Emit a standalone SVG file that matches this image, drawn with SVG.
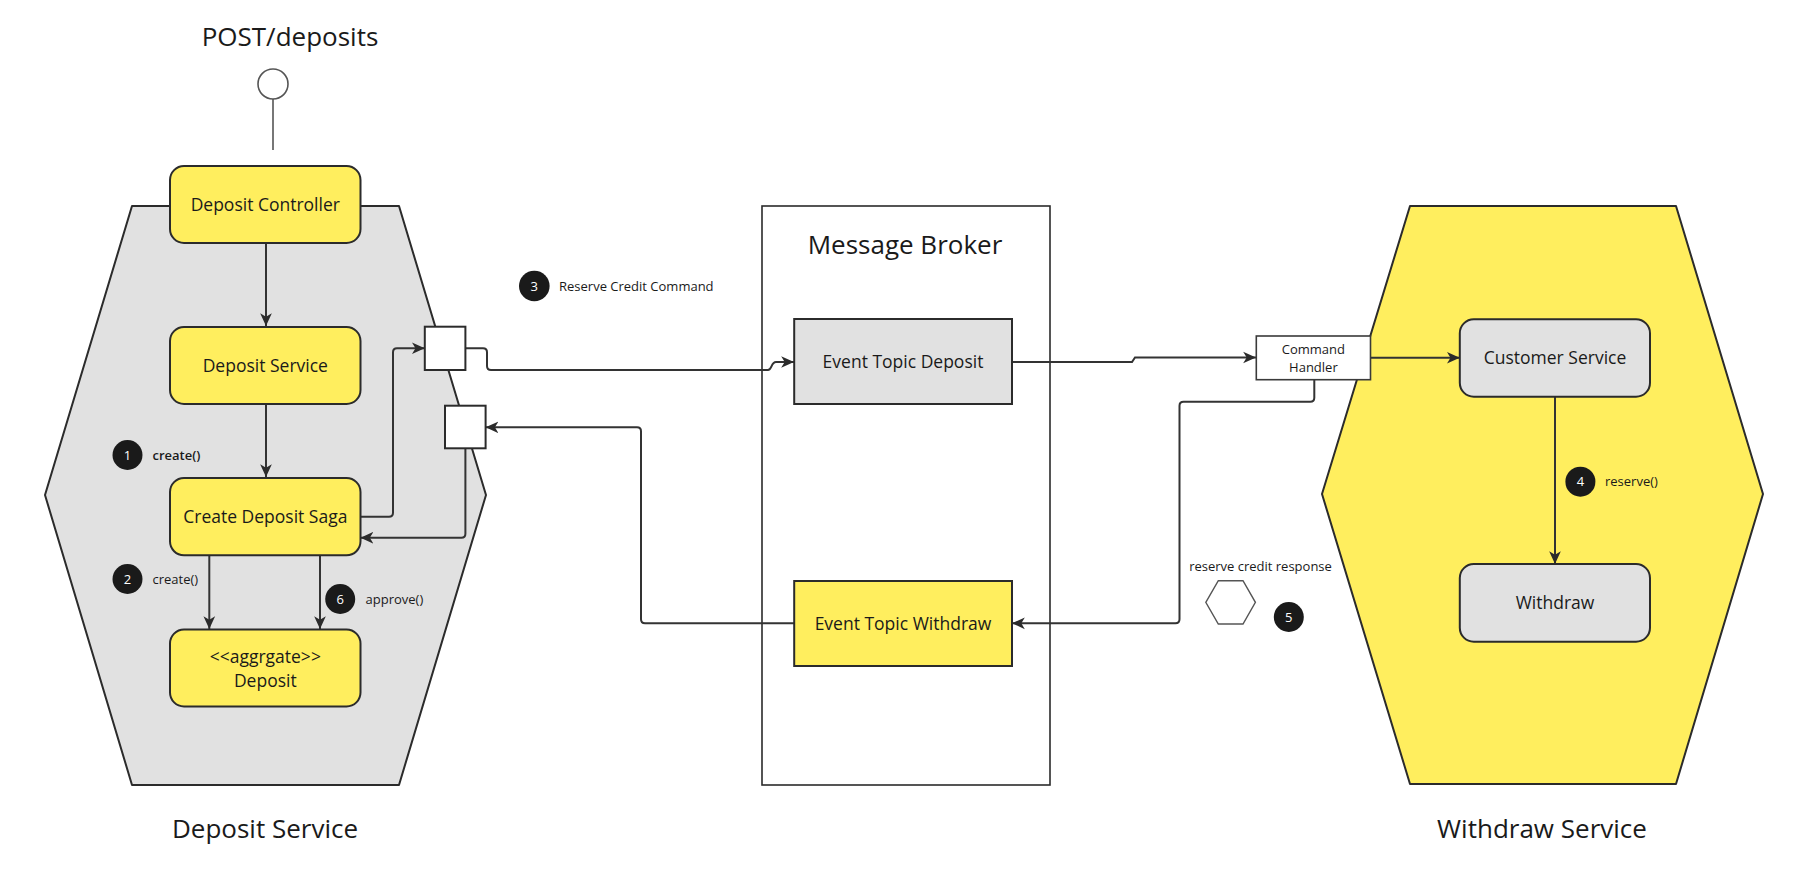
<svg xmlns="http://www.w3.org/2000/svg" width="1800" height="888" viewBox="0 0 1800 888">
<defs>
<marker id="arr" markerUnits="userSpaceOnUse" markerWidth="14" markerHeight="14" viewBox="0 0 12 12" refX="11" refY="6" orient="auto">
<path d="M0,1 L11,6 L0,11 L3,6 z" fill="#2b2b2b"/>
</marker>
<style>
text{font-family:"Open Sans","Noto Sans","Liberation Sans",sans-serif;fill:#1a1a1a}
.hexg{fill:#e1e1e1;stroke:#2b2b2b;stroke-width:2;stroke-linejoin:round}
.hexy{fill:#ffee5e;stroke:#2b2b2b;stroke-width:2;stroke-linejoin:round}
.ybox{fill:#ffee5e;stroke:#2b2b2b;stroke-width:2}
.gbox{fill:#e1e1e1;stroke:#2b2b2b;stroke-width:2}
.port{fill:#ffffff;stroke:#2b2b2b;stroke-width:2}
.lbl{font-size:17.5px;text-anchor:middle}
.title{font-size:26px;text-anchor:middle}
.small{font-size:13px}
.badge{fill:#1a1a1a}
.num{font-size:13px;fill:#ffffff;text-anchor:middle}
.conn{fill:none;stroke:#333333;stroke-width:2}
</style>
</defs>
<rect width="1800" height="888" fill="#ffffff"/>

<g id="deposit-service-hex">
<polygon class="hexg" points="132,206 399,206 486,495 399,785 132,785 45,495"/>
<text class="title" x="265" y="838">Deposit Service</text>
</g>
<g id="withdraw-service-hex">
<polygon class="hexy" points="1410,206 1676,206 1763,494 1676,784 1410,784 1322,494"/>
<text class="title" x="1542" y="838">Withdraw Service</text>
</g>
<g id="message-broker">
<rect x="762" y="206" width="288" height="579" fill="#ffffff" stroke="#2b2b2b" stroke-width="1.6"/>
<text class="title" x="905" y="254">Message Broker</text>
</g>

<g id="post-deposits">
<text class="title" x="290" y="46">POST/deposits</text>
<circle cx="273" cy="84" r="15" fill="#ffffff" stroke="#555555" stroke-width="1.6"/>
<line x1="273" y1="99" x2="273" y2="150" stroke="#555555" stroke-width="1.6"/>
</g>

<g id="connectors">
<path class="conn" d="M266,243 L266,326" marker-end="url(#arr)"/>
<path class="conn" d="M266,404 L266,477" marker-end="url(#arr)"/>
<path class="conn" d="M360.5,516.7 L389,516.7 Q393,516.7 393,512.7 L393,352.3 Q393,348.3 397,348.3 L424.8,348.3" marker-end="url(#arr)"/>
<path class="conn" d="M465.4,348.3 L483,348.3 Q487,348.3 487,352.3 L487,366 Q487,370 491,370 L768,370 C772,370 771,362 776,362 L794,362" marker-end="url(#arr)"/>
<path class="conn" d="M465.4,448.3 L465.4,533.7 Q465.4,537.7 461.4,537.7 L360.5,537.7" marker-end="url(#arr)"/>
<path class="conn" d="M794,623.3 L645,623.3 Q641,623.3 641,619.3 L641,431.3 Q641,427.3 637,427.3 L485.6,427.3" marker-end="url(#arr)"/>
<path class="conn" d="M209.3,555.3 L209.3,629" marker-end="url(#arr)"/>
<path class="conn" d="M320,555.3 L320,629" marker-end="url(#arr)"/>
<path class="conn" d="M1012,362 L1132,362 L1135,357.5 L1256,357.5" marker-end="url(#arr)"/>
<path class="conn" d="M1370.5,357.7 L1459.8,357.7" marker-end="url(#arr)"/>
<path class="conn" d="M1555,396.7 L1555,564" marker-end="url(#arr)"/>
<path class="conn" d="M1314.3,379.7 L1314.3,397.7 Q1314.3,401.7 1310.3,401.7 L1183.5,401.7 Q1179.5,401.7 1179.5,405.7 L1179.5,619.3 Q1179.5,623.3 1175.5,623.3 L1012,623.3" marker-end="url(#arr)"/>
</g>

<g id="deposit-controller">
<rect class="ybox" x="170" y="166" width="190.5" height="77" rx="14"/>
<text class="lbl" x="265.3" y="210.5">Deposit Controller</text>
</g>
<g id="deposit-service">
<rect class="ybox" x="170" y="327" width="190.5" height="77" rx="14"/>
<text class="lbl" x="265.3" y="371.6">Deposit Service</text>
</g>
<g id="create-deposit-saga">
<rect class="ybox" x="170" y="478" width="190.5" height="77.3" rx="14"/>
<text class="lbl" x="265.3" y="522.7">Create Deposit Saga</text>
</g>
<g id="aggregate-deposit">
<rect class="ybox" x="170" y="629.5" width="190.5" height="77" rx="14"/>
<text class="lbl" x="265.3" y="663.3">&lt;&lt;aggrgate&gt;&gt;</text>
<text class="lbl" x="265.3" y="687.3">Deposit</text>
</g>
<g id="port-out">
<rect class="port" x="424.8" y="326.7" width="40.6" height="43.3"/>
</g>
<g id="port-in">
<rect class="port" x="445" y="405.7" width="40.6" height="42.6"/>
</g>

<g id="event-topic-deposit">
<rect class="gbox" x="794.2" y="319" width="217.8" height="85"/>
<text class="lbl" x="903" y="367.7">Event Topic Deposit</text>
</g>
<g id="event-topic-withdraw">
<rect class="ybox" x="794.2" y="581" width="217.8" height="85"/>
<text class="lbl" x="903" y="629.7">Event Topic Withdraw</text>
</g>

<g id="command-handler">
<rect x="1256.3" y="336" width="114.2" height="43.7" fill="#ffffff" stroke="#3a3a3a" stroke-width="1.6"/>
<text class="small" x="1313.4" y="354" text-anchor="middle">Command</text>
<text class="small" x="1313.4" y="372" text-anchor="middle">Handler</text>
</g>
<g id="customer-service">
<rect class="gbox" x="1459.8" y="319.3" width="190.2" height="77.4" rx="14"/>
<text class="lbl" x="1555" y="364.3">Customer Service</text>
</g>
<g id="withdraw">
<rect class="gbox" x="1459.8" y="564" width="190.2" height="77.7" rx="14"/>
<text class="lbl" x="1555" y="609">Withdraw</text>
</g>

<g id="reserve-credit-response">
<text class="small" x="1260.5" y="571" text-anchor="middle">reserve credit response</text>
<polygon points="1205.8,602.3 1218.3,580.7 1243,580.7 1255.4,602.3 1243,624 1218.3,624" fill="#ffffff" stroke="#555555" stroke-width="1.4"/>
</g>

<g id="badge-1">
<circle class="badge" cx="127.5" cy="455" r="15"/>
<text class="num" x="127.5" y="459.6">1</text>
<text class="small" x="152.5" y="459.6" font-weight="600">create()</text>
</g>
<g id="badge-2">
<circle class="badge" cx="127.5" cy="579" r="15"/>
<text class="num" x="127.5" y="583.6">2</text>
<text class="small" x="152.5" y="583.6">create()</text>
</g>
<g id="badge-3">
<circle class="badge" cx="534.3" cy="286" r="15.3"/>
<text class="num" x="534.3" y="290.6">3</text>
<text class="small" x="559" y="290.8">Reserve Credit Command</text>
</g>
<g id="badge-4">
<circle class="badge" cx="1580.4" cy="481.7" r="15"/>
<text class="num" x="1580.4" y="486.3">4</text>
<text class="small" x="1605" y="486.3">reserve()</text>
</g>
<g id="badge-5">
<circle class="badge" cx="1288.8" cy="617" r="15"/>
<text class="num" x="1288.8" y="621.6">5</text>
</g>
<g id="badge-6">
<circle class="badge" cx="340.2" cy="599" r="15"/>
<text class="num" x="340.2" y="603.6">6</text>
<text class="small" x="365.5" y="603.6">approve()</text>
</g>
</svg>
